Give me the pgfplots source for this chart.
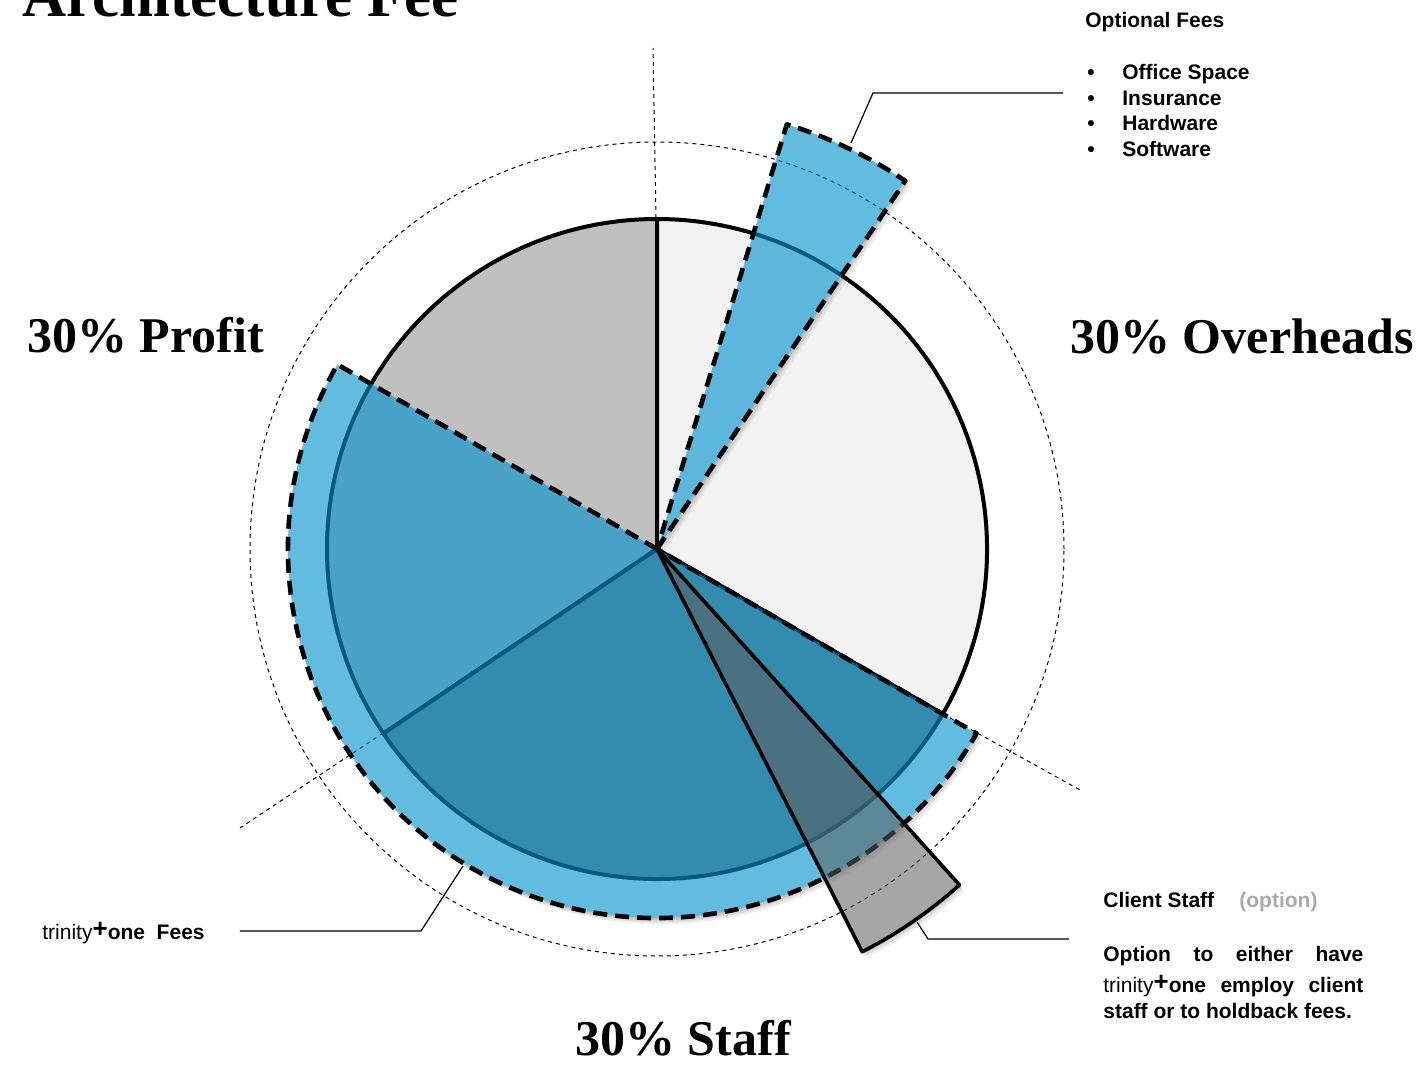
\documentclass[border=0pt]{standalone}
\usepackage{pgfplots}
\pgfplotsset{compat=1.18}
\usepackage{fontspec}
\setmainfont{Liberation Sans}
\newfontfamily\serifb{Liberation Serif}
\definecolor{fblue}{RGB}{0,146,205}
\definecolor{pgrey}{RGB}{192,192,192}
\definecolor{sgrey}{RGB}{135,128,125}
\definecolor{ogrey}{RGB}{242,242,242}
\definecolor{optgrey}{RGB}{93,93,93}
\definecolor{lbl}{RGB}{170,170,170}
% sector: options, start angle, end angle, radius (px), shift
\newcommand\sector[5]{\path[#1] ([shift={#5}]C) -- ++(#2:{#4*0.5pt}) arc[start angle=#2, end angle=#3, radius={#4*0.5pt}] -- cycle;}
\newcommand\sshadow[3]{%
  \begin{scope}[even odd rule]
  \clip (axis cs:-100,-100) rectangle (axis cs:1521,1169) (C) -- ++(#1:{#3*0.5pt}) arc[start angle=#1, end angle=#2, radius={#3*0.5pt}] -- cycle;
  \sector{fill=black, fill opacity=0.10}{#1}{#2}{#3}{(0.8pt,-1.1pt)}
  \sector{fill=black, fill opacity=0.08}{#1}{#2}{#3}{(1.6pt,-2.1pt)}
  \sector{fill=black, fill opacity=0.06}{#1}{#2}{#3}{(2.4pt,-3.1pt)}
  \end{scope}}
\newcommand\plus{\raisebox{0.6pt}{\fontsize{13pt}{13pt}\selectfont\bfseries +}}
\begin{document}
\begin{tikzpicture}
\begin{axis}[x=0.5pt, y=0.5pt, y dir=reverse,
  xmin=0, xmax=1421, ymin=0, ymax=1069,
  hide axis, clip=false]
\coordinate (C) at (axis cs:657,549);
% pie: Profit, Staff, Overheads (radius 330 px)
\sector{fill=pgrey, draw=black, line width=2pt, line join=round}{90}{214}{330}{(0pt,0pt)}
\sector{fill=sgrey, draw=black, line width=2pt, line join=round}{214}{330}{330}{(0pt,0pt)}
\sector{fill=ogrey, draw=black, line width=2pt, line join=round}{-30}{90}{330}{(0pt,0pt)}
% dotted guide circle and radial guides
\draw[black, line width=0.5pt, dash pattern=on 2pt off 2pt] (C) ++(0:{407*0.5pt}) arc[start angle=0, end angle=360, radius={407*0.5pt}];
\addplot[black, line width=0.5pt, dash pattern=on 2pt off 2pt] coordinates {(656,218) (653,48)};
\addplot[black, line width=0.5pt, dash pattern=on 2pt off 2pt] coordinates {(943,714) (1080,790)};
\addplot[black, line width=0.5pt, dash pattern=on 2pt off 2pt] coordinates {(383,733) (240,828)};
% trinity+one fees band
\sshadow{150}{330}{369}
\sector{fill=fblue, fill opacity=0.615, draw=black, line width=2.3pt, dash pattern=on 7pt off 4pt, line join=round}{150}{330}{369}{(0pt,0pt)}
% optional fees sector
\sshadow{56}{73}{444}
\sector{fill=fblue, fill opacity=0.615, draw=black, line width=2.3pt, dash pattern=on 7pt off 4pt, line join=round}{56}{73}{444}{(0pt,0pt)}
% client staff option
\sshadow{-63}{-48}{452}
\sector{fill=optgrey, fill opacity=0.55, draw=black, line width=1.8pt, line join=round}{-63}{-48}{452}{(0pt,0pt)}
% leader lines
\addplot[black, line width=0.6pt] coordinates {(851,143) (873,93) (1063,93)};
\addplot[black, line width=0.6pt] coordinates {(240,931) (421,931) (463,866)};
\addplot[black, line width=0.6pt] coordinates {(917,922) (928,939) (1069,939)};
% titles
\node[anchor=base west, inner sep=0, font=\serifb\bfseries\fontsize{30.5pt}{32pt}\selectfont] at (axis cs:22,17) {Architecture Fee};
\node[anchor=base west, inner sep=0, font=\serifb\bfseries\fontsize{25pt}{30pt}\selectfont] at (axis cs:27,353) {30\% Profit};
\node[anchor=base west, inner sep=0, font=\serifb\bfseries\fontsize{25pt}{30pt}\selectfont] at (axis cs:1070,354) {30\% Overheads};
\node[anchor=base west, inner sep=0, font=\serifb\bfseries\fontsize{25pt}{30pt}\selectfont] at (axis cs:575,1055) {30\% Staff};
% optional fees list
\node[anchor=base west, inner sep=0, font=\bfseries\fontsize{10.5pt}{12pt}\selectfont] at (axis cs:1085,28) {Optional Fees};
\node[anchor=base west, inner sep=0, font=\bfseries\fontsize{10.5pt}{12pt}\selectfont] at (axis cs:1087,80) {•};
\node[anchor=base west, inner sep=0, font=\bfseries\fontsize{10.5pt}{12pt}\selectfont] at (axis cs:1087,106) {•};
\node[anchor=base west, inner sep=0, font=\bfseries\fontsize{10.5pt}{12pt}\selectfont] at (axis cs:1087,131) {•};
\node[anchor=base west, inner sep=0, font=\bfseries\fontsize{10.5pt}{12pt}\selectfont] at (axis cs:1087,157) {•};
\node[anchor=base west, inner sep=0, font=\bfseries\fontsize{10.5pt}{12pt}\selectfont] at (axis cs:1122,80) {Office Space};
\node[anchor=base west, inner sep=0, font=\bfseries\fontsize{10.5pt}{12pt}\selectfont] at (axis cs:1122,106) {Insurance};
\node[anchor=base west, inner sep=0, font=\bfseries\fontsize{10.5pt}{12pt}\selectfont] at (axis cs:1122,131) {Hardware};
\node[anchor=base west, inner sep=0, font=\bfseries\fontsize{10.5pt}{12pt}\selectfont] at (axis cs:1122,157) {Software};
% trinity+one fees label
\node[anchor=base west, inner sep=0, font=\bfseries\fontsize{10.5pt}{12pt}\selectfont] at (axis cs:42,939) {{\mdseries trinity}\plus one\ \ Fees};
% client staff text
\node[anchor=base west, inner sep=0, font=\bfseries\fontsize{10.5pt}{12pt}\selectfont] at (axis cs:1103,907) {Client Staff};
\node[anchor=base west, inner sep=0, font=\bfseries\fontsize{10.5pt}{12pt}\selectfont, text=lbl] at (axis cs:1239,907) {(option)};
\node[anchor=base west, inner sep=0, font=\bfseries\fontsize{10.5pt}{12pt}\selectfont] at (axis cs:1103,961) {\makebox[130pt][s]{Option to either have}};
\node[anchor=base west, inner sep=0, font=\bfseries\fontsize{10.5pt}{12pt}\selectfont] at (axis cs:1103,992) {\makebox[130pt][s]{{\mdseries trinity}\plus one employ client}};
\node[anchor=base west, inner sep=0, font=\bfseries\fontsize{10.5pt}{12pt}\selectfont] at (axis cs:1103,1018) {staff or to holdback fees.};
\end{axis}
\pgfresetboundingbox
\useasboundingbox (current axis.south west) rectangle (current axis.north east);
\end{tikzpicture}
\end{document}
